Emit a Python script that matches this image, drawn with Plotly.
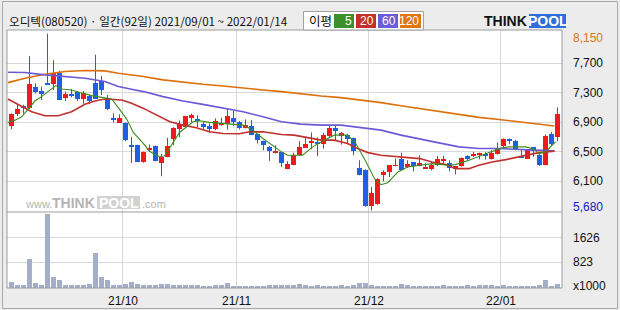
import plotly.graph_objects as go

# ---------------- data ----------------
title_text = "오디텍(080520) · 일간(92일) 2021/09/01 ~ 2022/01/14"
ma_legend_title = "이평"
ma_legend_labels = ["5", "20", "60", "120"]
month_labels = ["21/10", "21/11", "21/12", "22/01"]
month_first_index = [19, 38, 60, 82]
price_grid = [7700, 7300, 6900, 6500, 6100]
price_high_label = 8150
price_low_label = 5680
volume_grid = [1626, 823]
volume_unit = "x1000"

opens = [6845, 7005, 7123, 7086, 7373, 7323, 7427, 7418, 7573, 7232,
         7282, 7314, 7214, 7255, 7427, 7459, 7232, 6959, 6891, 6882,
         6586, 6595, 6355, 6523, 6582, 6341, 6432, 6664, 6800, 6832,
         6968, 6941, 6868, 6850, 6805, 6859, 6868, 6950, 6900, 6823,
         6850, 6741, 6650, 6564, 6482, 6496, 6259, 6314, 6450, 6555,
         6618, 6632, 6609, 6709, 6814, 6709, 6723, 6691, 6277, 6255,
         5759, 5782, 6177, 6223, 6305, 6405, 6300, 6359, 6305, 6277,
         6268, 6314, 6382, 6346, 6277, 6300, 6436, 6436, 6459, 6473,
         6395, 6473, 6577, 6677, 6645, 6427, 6405, 6564, 6459, 6314,
         6745, 6700]
highs = [7018, 7132, 7136, 7795, 7427, 7382, 8100, 7741, 7595, 7314,
         7350, 7323, 7323, 7268, 7814, 7527, 7268, 7018, 7005, 6895,
         6700, 6595, 6500, 6595, 6582, 6468, 6686, 6830, 6923, 6977,
         7014, 6991, 6905, 6882, 6950, 6959, 7077, 7050, 6914, 6936,
         6927, 6741, 6650, 6577, 6586, 6496, 6368, 6486, 6641, 6700,
         6759, 6691, 6755, 6850, 6859, 6768, 6741, 6691, 6382, 6260,
         6018, 6140, 6246, 6318, 6405, 6486, 6382, 6359, 6450, 6346,
         6359, 6441, 6441, 6382, 6305, 6420, 6450, 6496, 6486, 6496,
         6518, 6623, 6680, 6680, 6659, 6532, 6535, 6564, 6486, 6732,
         6768, 7100]
lows = [6805, 6982, 7014, 7077, 7286, 7200, 7405, 7336, 7200, 7186,
        7236, 7186, 7150, 7141, 7214, 7268, 7064, 6895, 6891, 6641,
        6346, 6359, 6350, 6505, 6368, 6164, 6423, 6586, 6695, 6832,
        6900, 6832, 6800, 6755, 6791, 6850, 6800, 6850, 6800, 6814,
        6723, 6609, 6518, 6373, 6473, 6291, 6259, 6314, 6441, 6555,
        6532, 6441, 6541, 6700, 6655, 6595, 6609, 6450, 6177, 5750,
        5700, 5778, 6096, 6155, 6300, 6246, 6277, 6232, 6300, 6268,
        6246, 6305, 6323, 6232, 6191, 6295, 6368, 6427, 6395, 6391,
        6391, 6459, 6541, 6600, 6518, 6414, 6400, 6427, 6305, 6314,
        6586, 6641]
closes = [7005, 7077, 7086, 7414, 7305, 7282, 7405, 7564, 7200, 7277,
          7259, 7214, 7291, 7191, 7214, 7336, 7077, 6941, 6959, 6655,
          6573, 6359, 6491, 6550, 6368, 6432, 6582, 6818, 6877, 6977,
          6991, 6909, 6827, 6805, 6918, 6891, 6986, 6905, 6823, 6859,
          6723, 6655, 6586, 6505, 6505, 6350, 6327, 6459, 6564, 6609,
          6641, 6614, 6723, 6814, 6777, 6750, 6677, 6505, 6177, 5755,
          5941, 6132, 6223, 6314, 6314, 6246, 6327, 6305, 6350, 6291,
          6323, 6405, 6405, 6277, 6300, 6414, 6395, 6473, 6473, 6450,
          6486, 6555, 6677, 6655, 6518, 6414, 6532, 6505, 6314, 6714,
          6600, 7005]
volumes = [206, 108, 108, 921, 173, 108, 2385, 369, 271, 108,
           108, 108, 108, 141, 1117, 347, 249, 108, 87, 141,
           206, 141, 108, 108, 98, 130, 141, 108, 87, 87,
           87, 87, 76, 54, 87, 87, 173, 76, 76, 76,
           54, 76, 54, 108, 87, 87, 87, 87, 141, 87,
           76, 87, 76, 76, 76, 87, 76, 87, 173, 173,
           108, 76, 76, 65, 76, 141, 87, 76, 76, 76,
           65, 76, 87, 76, 65, 76, 87, 76, 108, 108,
           87, 76, 98, 76, 76, 65, 76, 76, 87, 249,
           76, 141]

ma5_idx = [-0.6, 0.58, 1.7, 2.7, 3.9, 5.0, 6.1, 7.4, 8.4, 10.0,
           11.7, 13.4, 15.0, 16.7, 17.8, 19.2, 20.3, 22.0, 23.0, 24.4,
           25.5, 26.9, 28.0, 30.25, 31.4, 33.0, 35.8, 38.6, 40.25, 41.9,
           44.1, 45.0, 46.0, 48.5, 50.2, 52.1, 53.8, 56.0, 57.4, 59.1,
           60.5, 61.6, 62.7, 64.4, 66.0, 68.0, 70.1, 72.9, 74.0, 76.25,
           77.9, 79.6, 81.8, 82.9, 85.7, 87.1, 87.9, 89.0, 90.1, 90.7]
ma5_val = [6896, 6927, 6973, 7077, 7186, 7246, 7314, 7395, 7350, 7336,
           7296, 7259, 7236, 7214, 7096, 6941, 6759, 6609, 6505, 6437,
           6441, 6609, 6759, 6905, 6918, 6896, 6873, 6859, 6791, 6677,
           6550, 6496, 6450, 6450, 6564, 6655, 6723, 6723, 6609, 6359,
           6132, 6050, 6077, 6223, 6291, 6314, 6336, 6314, 6323, 6382,
           6436, 6486, 6550, 6564, 6564, 6532, 6473, 6495, 6586, 6632]

ma20_idx = [-0.6, 1.14, 3.36, 5.58, 7.8, 10.0, 12.25, 13.9, 15.58, 18.4,
            20.0, 22.0, 24.1, 26.4, 28.6, 30.8, 33.0, 35.25, 38.0, 39.7,
            41.9, 45.0, 47.1, 49.4, 51.6, 53.8, 56.0, 57.7, 59.4, 61.6,
            64.9, 68.0, 70.1, 72.4, 74.0, 76.25, 77.9, 80.1, 82.4, 84.6,
            87.9, 90.5]
ma20_val = [7214, 7141, 7041, 6986, 6986, 7041, 7141, 7186, 7214, 7200,
            7155, 7086, 6996, 6905, 6859, 6823, 6768, 6746, 6741, 6768,
            6768, 6732, 6723, 6686, 6655, 6655, 6609, 6541, 6486, 6450,
            6427, 6405, 6359, 6323, 6268, 6268, 6314, 6359, 6391, 6427,
            6486, 6505]

ma60_idx = [-0.6, 2.25, 5.58, 8.92, 12.25, 15.58, 17.8, 20.0, 22.0, 25.25,
            28.6, 31.9, 35.25, 38.6, 41.9, 45.0, 48.25, 51.6, 54.9, 58.25,
            61.6, 64.9, 68.0, 71.25, 74.6, 77.9, 81.25, 84.6, 87.9, 90.5]
ma60_val = [7577, 7573, 7541, 7518, 7495, 7450, 7382, 7346, 7314, 7246,
            7186, 7141, 7096, 7041, 6973, 6905, 6873, 6859, 6859, 6823,
            6791, 6723, 6668, 6618, 6564, 6541, 6541, 6532, 6518, 6509]

ma120_idx = [-0.6, 2.25, 5.58, 8.92, 12.25, 15.58, 17.8, 20.0, 22.0, 25.25,
             28.6, 31.9, 35.25, 38.6, 41.9, 45.0, 48.25, 51.6, 54.9, 58.25,
             61.6, 64.9, 68.0, 71.25, 74.6, 77.9, 81.25, 84.6, 87.9, 90.5]
ma120_val = [7436, 7495, 7550, 7586, 7600, 7595, 7564, 7541, 7518, 7473,
             7441, 7414, 7391, 7359, 7336, 7314, 7282, 7255, 7232, 7200,
             7164, 7123, 7086, 7041, 7005, 6964, 6936, 6905, 6868, 6846]

# ---------------- styling ----------------
W, H = 620, 310
L, R, T, B = 7, 562, 30, 288
SPLIT_PX = 212


def px(x):
    return (x - L) / (R - L)


def py(y):
    return (B - y) / (B - T)


split = py(SPLIT_PX)
RED = "#f01a1a"
BLUE = "#1f5fe4"
VOL = "#a4aec9"
GRID = "#d8d8d8"
BORDER = "#9c9c9c"
MA_COLORS = ["#3c8c1e", "#c0302c", "#6a5ad6", "#dd6f0a"]
LEG_COLORS = ["#3d8f2c", "#c53129", "#6b5cd8", "#e07512"]
NUMFONT = "Liberation Sans"
KFONT = "Noto Sans CJK KR"

fig = go.Figure()
n = len(opens)
idx = list(range(n))
up = [c >= o for o, c in zip(opens, closes)]

# candles
for flag, col in ((True, RED), (False, BLUE)):
    sel = [i for i in idx if up[i] == flag]
    base = [min(opens[i], closes[i]) for i in sel]
    height = [max(abs(closes[i] - opens[i]), 12) for i in sel]
    wx, wy = [], []
    for i in sel:
        wx += [i, i, None]
        wy += [lows[i], highs[i], None]
    fig.add_trace(go.Bar(x=sel, y=height, base=base, width=5 / 6,
                         marker=dict(color=col, line=dict(width=0)),
                         hoverinfo="skip", yaxis="y"))
    fig.add_trace(go.Scatter(x=wx, y=wy, mode="lines",
                             line=dict(color=col, width=1),
                             hoverinfo="skip", yaxis="y"))

# moving averages
for (mx, my, col, w) in ((ma120_idx, ma120_val, MA_COLORS[3], 1.6),
                         (ma60_idx, ma60_val, MA_COLORS[2], 1.6),
                         (ma20_idx, ma20_val, MA_COLORS[1], 1.6),
                         (ma5_idx, ma5_val, MA_COLORS[0], 1.1)):
    fig.add_trace(go.Scatter(x=mx, y=my, mode="lines",
                             line=dict(color=col, width=w),
                             hoverinfo="skip", yaxis="y"))

# volume
fig.add_trace(go.Bar(x=idx, y=volumes, width=5 / 6,
                     marker=dict(color=VOL, line=dict(width=0)),
                     hoverinfo="skip", yaxis="y2"))

fig.update_layout(
    width=W, height=H,
    margin=dict(l=L, r=W - R, t=T, b=H - B, pad=0),
    paper_bgcolor="#ececec", plot_bgcolor="#ffffff",
    showlegend=False, barmode="overlay", bargap=0,
    xaxis=dict(range=[-0.75, 91.75], tickvals=[m - 0.5 for m in month_first_index],
               showticklabels=False, showgrid=True, gridcolor=GRID, gridwidth=1,
               zeroline=False, ticks="", showline=False, fixedrange=True),
    yaxis=dict(domain=[split, 1], range=[price_low_label, price_high_label],
               tickvals=price_grid, showticklabels=False, showgrid=True,
               gridcolor=GRID, gridwidth=1, zeroline=False, ticks="", fixedrange=True),
    yaxis2=dict(domain=[0, split], range=[0, 2450], anchor="x",
                tickvals=volume_grid, showticklabels=False, showgrid=True,
                gridcolor=GRID, gridwidth=1, zeroline=False, ticks="", fixedrange=True),
)

shapes = []
# outer frame
shapes.append(dict(type="rect", xref="paper", yref="paper",
                   x0=px(2.5), x1=px(617.5), y0=py(308.5), y1=py(1.5),
                   line=dict(color="#a8a8a8", width=1), layer="below"))
# plot border & separator
shapes.append(dict(type="rect", xref="paper", yref="paper", x0=0, x1=1, y0=0, y1=1,
                   line=dict(color=BORDER, width=1)))
shapes.append(dict(type="line", xref="paper", yref="paper", x0=0, x1=1, y0=split, y1=split,
                   line=dict(color=BORDER, width=1)))
# MA legend box
shapes.append(dict(type="rect", xref="paper", yref="paper",
                   x0=px(303.5), x1=px(423.5), y0=py(30), y1=py(11.5),
                   fillcolor="#ffffff", line=dict(color="#a0a0a0", width=1)))
box_x = [(334, 354), (356, 376), (378, 398), (400, 421)]
for (a, b), c in zip(box_x, LEG_COLORS):
    shapes.append(dict(type="rect", xref="paper", yref="paper",
                       x0=px(a), x1=px(b), y0=py(28), y1=py(14),
                       fillcolor=c, line=dict(width=0)))
# THINKPOOL logo box
shapes.append(dict(type="rect", xref="paper", yref="paper",
                   x0=px(529), x1=px(566), y0=py(28), y1=py(14),
                   fillcolor="#2f6fdc", line=dict(width=0)))
# watermark box
shapes.append(dict(type="rect", xref="paper", yref="paper",
                   x0=px(97), x1=px(140), y0=py(209), y1=py(196),
                   fillcolor="#d2d2d2", line=dict(width=0), layer="below"))
fig.update_layout(shapes=shapes)

ann = []
ann.append(dict(text=title_text, xref="paper", yref="paper", x=px(7), y=py(21),
                xanchor="left", yanchor="middle", showarrow=False,
                font=dict(family=KFONT, size=11.6, color="#111111")))
ann.append(dict(text=ma_legend_title, xref="paper", yref="paper", x=px(307), y=py(21),
                xanchor="left", yanchor="middle", showarrow=False,
                font=dict(family=KFONT, size=12.5, color="#111111")))
for (a, b), t in zip(box_x, ma_legend_labels):
    ann.append(dict(text=t, xref="paper", yref="paper", x=px(b), y=py(21),
                    xanchor="right", yanchor="middle", showarrow=False,
                    font=dict(family=NUMFONT, size=12, color="#ffffff")))
ann.append(dict(text="<b>THINK</b>", xref="paper", yref="paper", x=px(529), y=py(21.5),
                xanchor="right", yanchor="middle", showarrow=False,
                font=dict(family=NUMFONT, size=14, color="#111111")))
ann.append(dict(text="<b>POOL</b>", xref="paper", yref="paper", x=px(547.5), y=py(21.5),
                xanchor="center", yanchor="middle", showarrow=False,
                font=dict(family=NUMFONT, size=14, color="#ffffff")))
# watermark
ann.append(dict(text="www.", xref="paper", yref="paper", x=px(23), y=py(204),
                xanchor="left", yanchor="middle", showarrow=False,
                font=dict(family=NUMFONT, size=11, color="#b4b4b4")))
ann.append(dict(text="<b>THINK</b>", xref="paper", yref="paper", x=px(97), y=py(203),
                xanchor="right", yanchor="middle", showarrow=False,
                font=dict(family=NUMFONT, size=14, color="#b4b4b4")))
ann.append(dict(text="<b>POOL</b>", xref="paper", yref="paper", x=px(118.5), y=py(203),
                xanchor="center", yanchor="middle", showarrow=False,
                font=dict(family=NUMFONT, size=14, color="#ffffff")))
ann.append(dict(text=".com", xref="paper", yref="paper", x=px(140), y=py(204),
                xanchor="left", yanchor="middle", showarrow=False,
                font=dict(family=NUMFONT, size=11, color="#b4b4b4")))

# right-side labels
lab_font = dict(family=NUMFONT, size=12, color="#111111")
ann.append(dict(text=f"{price_high_label:,}", xref="paper", yref="y", x=1, y=price_high_label,
                xanchor="left", yanchor="middle", xshift=9, yshift=-8, showarrow=False,
                font=dict(family=NUMFONT, size=12, color="#e07512")))
for v in price_grid:
    ann.append(dict(text=f"{v:,}", xref="paper", yref="y", x=1, y=v,
                    xanchor="left", yanchor="middle", xshift=9, showarrow=False, font=lab_font))
ann.append(dict(text=f"{price_low_label:,}", xref="paper", yref="y", x=1, y=price_low_label,
                xanchor="left", yanchor="middle", xshift=9, yshift=5, showarrow=False,
                font=dict(family=NUMFONT, size=12, color="#1020d0")))
for v in volume_grid:
    ann.append(dict(text=str(v), xref="paper", yref="y2", x=1, y=v,
                    xanchor="left", yanchor="middle", xshift=9, showarrow=False, font=lab_font))
ann.append(dict(text=volume_unit, xref="paper", yref="y2", x=1, y=0,
                xanchor="left", yanchor="middle", xshift=9, yshift=2, showarrow=False, font=lab_font))
# month labels
for m, t in zip(month_first_index, month_labels):
    ann.append(dict(text=t, xref="x", yref="paper", x=m - 0.5, y=py(300.5),
                    xanchor="center", yanchor="middle", showarrow=False, font=lab_font))
fig.update_layout(annotations=ann)

fig.write_html("out.html")
